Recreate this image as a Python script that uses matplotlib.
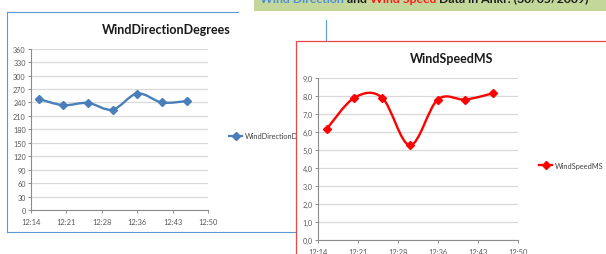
import matplotlib
matplotlib.use('Agg')
import matplotlib.pyplot as plt
from matplotlib.patches import Rectangle, PathPatch
from matplotlib.path import Path
from matplotlib.lines import Line2D
from matplotlib.ticker import FixedLocator, FuncFormatter

plt.rcParams['font.family'] = ['Lato', 'DejaVu Sans']

# datos
times = ['12:16', '12:21', '12:26', '12:31', '12:36', '12:41', '12:46']
wind_dir = [248, 234, 239, 224, 260, 240, 243]
wind_speed = [6.15, 7.9, 7.9, 5.25, 7.8, 7.8, 8.15]
time_labels = ['12:14', '12:21', '12:28', '12:36', '12:43', '12:50']
dir_ticks = [0, 30, 60, 90, 120, 150, 180, 210, 240, 270, 300, 330, 360]
speed_ticks = [0, 1, 2, 3, 4, 5, 6, 7, 8, 9]

# eje de tiempo (minutos despues de las 12:00), como en Excel
t_min, t_max, t_step = 14.4, 50.4, 7.2

W, H = 606, 255
fig = plt.figure(figsize=(W / 100, H / 100), dpi=100)


def fx(x):
  return x / W


def fy(y):
  return 1 - y / H


def minutes(s):
  h, m = s.split(':')
  return (int(h) - 12) * 60 + int(m)


def smooth_path(xs, ys):
  """Linea suavizada tipo Excel (Catmull-Rom con curvas Bezier)"""
  pts = list(zip(xs, ys))
  n = len(pts)
  verts = [pts[0]]
  codes = [Path.MOVETO]
  for i in range(n - 1):
    p0 = pts[max(i - 1, 0)]
    p1 = pts[i]
    p2 = pts[i + 1]
    p3 = pts[min(i + 2, n - 1)]
    c1 = (p1[0] + (p2[0] - p0[0]) / 6, p1[1] + (p2[1] - p0[1]) / 6)
    c2 = (p2[0] - (p3[0] - p1[0]) / 6, p2[1] - (p3[1] - p1[1]) / 6)
    verts += [c1, c2, p2]
    codes += [Path.CURVE4] * 3
  return Path(verts, codes)


def chart(box, values, yticks, fmt, color, label, title, title_xy, leg_xy, z):
  x0, y0, x1, y1 = box
  ax = fig.add_axes([fx(x0), fy(y1), fx(x1 - x0), (y1 - y0) / H])
  ax.set_zorder(z)
  xs = [minutes(t) for t in times]
  ax.add_patch(PathPatch(smooth_path(xs, values), fill=False, edgecolor=color,
                         lw=1.7, capstyle='round', joinstyle='round'))
  ax.plot(xs, values, ls='none', marker='D', ms=4, color=color)
  ax.set_xlim(t_min, t_max)
  ax.set_ylim(yticks[0], yticks[-1])
  ax.xaxis.set_major_locator(FixedLocator([t_min + t_step * i for i in range(len(time_labels))]))
  ax.set_xticklabels(time_labels)
  ax.yaxis.set_major_locator(FixedLocator(yticks))
  ax.yaxis.set_major_formatter(FuncFormatter(fmt))
  ax.grid(axis='y', color='#d9d9d9', lw=0.9)
  ax.set_axisbelow(True)
  for s in ['top', 'right']:
    ax.spines[s].set_visible(False)
  for s in ['left', 'bottom']:
    ax.spines[s].set_color('#8c8c8c')
    ax.spines[s].set_linewidth(0.8)
  ax.tick_params(axis='y', length=2, width=0.7, color='#8c8c8c', pad=1.5,
                 labelsize=5.2, labelcolor='#595959')
  ax.tick_params(axis='x', length=2.2, width=0.7, color='#8c8c8c', pad=3.6,
                 labelsize=5.4, labelcolor='#595959')
  fig.text(fx(title_xy[0]), fy(title_xy[1]), title, ha='center', va='center',
           fontsize=9, fontweight='bold', color='#1a1a1a', zorder=z + 1)
  h = Line2D([], [], color=color, lw=1.6, marker='D', ms=4)
  ax.legend([h], [label], loc='center left', bbox_to_anchor=(fx(leg_xy[0]), fy(leg_xy[1])),
            bbox_transform=fig.transFigure, frameon=False, fontsize=5.3,
            handlelength=1.8, handletextpad=0.4, borderpad=0, borderaxespad=0,
            labelcolor='#404040')
  return ax


# banda del titulo de la diapositiva (recortada arriba como en la captura)
fig.add_artist(Rectangle((fx(254), fy(11.7)), fx(W - 254) + 0.01, 11.7 / H + 0.01,
                         transform=fig.transFigure, facecolor='#c4d79b', edgecolor='none', zorder=1))
banner = [('Wind Direction ', '#4f8fd6'), ('and ', '#1a1a1a'),
          ('Wind Speed ', '#ff1a1a'), ('Data in Ankr. (30/05/2009)', '#1a1a1a')]
renderer = fig.canvas.get_renderer()
x = fx(260)
for txt, col in banner:
  t = fig.text(x, fy(2.6), txt, color=col, fontsize=8.8, fontweight='bold',
               ha='left', va='baseline', zorder=2)
  x += t.get_window_extent(renderer).width / W

# marco del grafico izquierdo
blue = '#5b9bd5'
for xa, ya, xb, yb in [(6.5, 12.7, 238, 12.7), (6.5, 12.7, 6.5, 232.5),
                       (6.5, 232.5, 300, 232.5), (325.5, 21, 325.5, 41.5)]:
  fig.add_artist(Line2D([fx(xa), fx(xb)], [fy(ya), fy(yb)], color=blue, lw=0.8,
                        transform=fig.transFigure, zorder=1))

chart((30.7, 49.7, 208.3, 211), wind_dir, dir_ticks, lambda v, p: '%d' % v,
      '#4a7ebb', 'WindDirectionDegrees', 'WindDirectionDegrees', (166, 30), (229, 137), 1)

# panel del grafico derecho, tapa al izquierdo
fig.add_artist(Rectangle((fx(296), fy(300)), 0.6, fy(41.5) - fy(300),
                         transform=fig.transFigure, facecolor='white', edgecolor='#e8474c',
                         lw=0.9, zorder=2))

chart((317.7, 79, 517.7, 240.5), wind_speed, speed_ticks,
      lambda v, p: ('%.1f' % v).replace('.', ','),
      '#ff0000', 'WindSpeedMS', 'WindSpeedMS', (452, 59), (539, 166), 3)

fig.savefig('out.png', dpi=100)
